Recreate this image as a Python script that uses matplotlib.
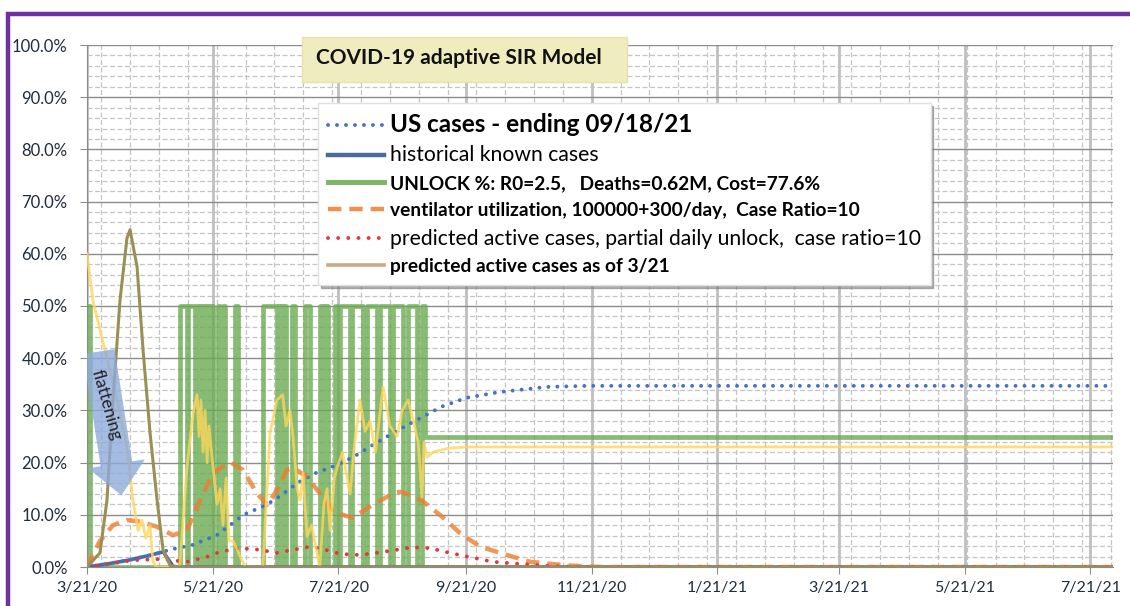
import datetime as dt
import numpy as np
import matplotlib.pyplot as plt
from matplotlib.lines import Line2D
from matplotlib.patches import FancyArrowPatch, Rectangle

START = dt.date(2020, 3, 21)

# x values are days since 3/21/20, y values are percent
us_days = [0, 10, 20, 30, 37, 40, 51, 63, 76, 87, 93, 103, 111, 119, 129, 140, 151,
           164, 172, 184, 200, 223, 243, 498]
us_vals = [0, 0.6, 1.3, 2.2, 2.9, 3.3, 4.2, 6.1, 10.0, 11.9, 13.4, 16.3, 18.0, 19.2, 21.0,
           23.7, 26.2, 29.0, 30.7, 32.4, 33.5, 34.5, 34.7, 34.7]

hist_days = [0, 10, 20, 30, 37, 42, 498]
hist_vals = [0, 0.6, 1.3, 2.2, 2.9, 0, 0]

unlock_days = [0, 1.5, 45, 48.5, 49, 52.4, 53.4, 54.4, 54.9, 55.8, 56.3, 57.3, 57.8, 58.7,
               59.2, 60.2, 60.7, 61.4, 63.6, 64.6, 66, 67, 71.8, 73.3, 85.4, 92.2, 92.7,
               93.7, 94.2, 95.1, 95.6, 96.4, 99.5, 101, 105.8, 108.3, 113, 114, 114.6, 115.5,
               116, 117, 120.4, 121.4, 122.8, 127.7, 128.6, 134, 135.9, 140.8, 142.2, 147,
               148.5, 153.4, 155.8, 160.2, 162.6, 164, 498]
unlock_vals = [50, 0, 50, 0, 50, 0, 50, 0, 50, 0, 50, 0, 50, 0,
               50, 0, 50, 0, 50, 0, 50, 0, 50, 0, 50, 0, 50,
               0, 50, 0, 50, 0, 50, 0, 50, 0, 50, 0, 50, 0,
               50, 0, 50, 0, 50, 0, 50, 0, 50, 0, 50, 0,
               50, 0, 50, 0, 50, 25, 25]

vent_days = [0, 1.5, 6.3, 12.6, 19.4, 25.7, 34, 41.7, 48.5, 54.9, 61.2, 69.4, 75.7, 82.5,
             87.4, 92.2, 97, 100, 106.8, 113, 119.4, 129, 137, 148.5, 152, 156.8, 163,
             172.8, 181, 190.8, 203.9, 215, 233, 249, 498]
vent_vals = [0, 1.3, 5.0, 8.0, 9.0, 8.7, 7.7, 6.1, 7.0, 12.8, 18.0, 20.1, 18.6, 14.1,
             11.9, 14.7, 18.6, 19.0, 17.3, 14.1, 10.6, 9.4, 11.5, 14.1, 14.4, 13.8, 12.6,
             9.5, 6.5, 3.9, 2.3, 1.0, 0.3, 0, 0]

active_days = [0, 6.3, 22, 35, 48.5, 58, 64.5, 74, 84, 92, 100, 107, 113, 123, 132.5, 142,
               152, 158, 166.5, 175, 184.5, 197, 210, 225, 239, 498]
active_vals = [0, 0.3, 1.3, 1.5, 1.0, 1.9, 2.9, 3.6, 3.3, 2.7, 3.3, 3.8, 3.6, 2.5, 2.3, 2.8,
               3.4, 3.8, 3.6, 2.8, 2.0, 1.0, 0.6, 0.2, 0, 0]

mar_days = [0, 6.3, 9.7, 12.6, 16, 19.4, 20.9, 24.3, 27.2, 30.6, 34, 36.9, 40.3, 45, 498]
mar_vals = [0, 2.7, 12.8, 32.0, 51.0, 63.0, 64.6, 57.5, 41.6, 25.7, 12.8, 3.3, 0.3, 0, 0]

daily_days = [0, 2.9, 7.8, 14.6, 19.4, 22.3, 24.8, 26.7, 28.6, 30.6, 32, 33.5, 45, 48.5,
              51.5, 53.4, 54.4, 55.3, 56.3, 57.3, 58.3, 59.2, 61.2, 63.1, 64.6, 66, 67.5,
              68.9, 70.9, 76.7, 85.4, 88.8, 92.2, 95, 96.6, 98.5, 100, 102, 103.4, 104.9,
              106.8, 109, 111.7, 113, 115, 116.5, 118, 120, 121.4, 124, 127.7, 130, 132.5,
              135, 137.4, 140, 143.7, 147, 150.5, 153, 155.8, 158, 160.7, 162.6, 163.6,
              165, 168, 174.8, 183.5, 498]
daily_vals = [60, 51, 43, 32, 23, 12.8, 7, 9, 5.5, 8, 1, 0, 0, 19,
              29.5, 33, 25, 32, 22, 30, 20, 27, 19, 12, 15, 8, 17,
              5, 5, 0, 0, 25.6, 32, 33, 27, 30, 25, 15, 12.8, 18,
              5.8, 8, 2.5, 0, 12, 15, 7, 17, 19, 22, 14, 24, 32,
              26, 28, 22, 34.5, 27, 25, 30, 32, 28.6, 24, 13.4, 24,
              21, 22, 22.7, 23, 23]

x_label_dates = [dt.date(2020, 3, 21), dt.date(2020, 5, 21), dt.date(2020, 7, 21),
                 dt.date(2020, 9, 21), dt.date(2020, 11, 21), dt.date(2021, 1, 21),
                 dt.date(2021, 3, 21), dt.date(2021, 5, 21), dt.date(2021, 7, 21)]
x_labels = ['3/21/20', '5/21/20', '7/21/20', '9/21/20', '11/21/20', '1/21/21',
            '3/21/21', '5/21/21', '7/21/21']

legend_labels = [
    'US cases - ending 09/18/21',
    'historical known cases',
    'UNLOCK %: R0=2.5,   Deaths=0.62M, Cost=77.6%',
    'ventilator utilization, 100000+300/day,  Case Ratio=10',
    'predicted active cases, partial daily unlock,  case ratio=10',
    'predicted active cases as of 3/21',
]

plt.rcParams['font.family'] = ['Lato', 'DejaVu Sans']

fig = plt.figure(figsize=(11.3, 6.06), dpi=100)
ax = fig.add_axes([87 / 1130, 39 / 606, 1026 / 1130, 522 / 606])

BLUE = '#4472c4'
HIST = '#4c6aa0'
GREEN = '#6aaa50'
ORANGE = '#ed7d31'
RED = '#e0383c'
TAN = '#c9a982'
OLIVE = '#9a9055'
YELLOW = '#ffd659'

DOT_BLUE = (0, (0.01, 2.3))
DOT_RED = (0, (0.01, 2.6))
DASH = (0, (3, 1.8))

ax.plot(unlock_days, unlock_vals, drawstyle='steps-post', color=GREEN, lw=3.4, alpha=0.8, zorder=3)
ax.plot(hist_days, hist_vals, color=HIST, lw=2.6, zorder=4)
ax.plot(us_days, us_vals, color=BLUE, lw=2.8, ls=DOT_BLUE, dash_capstyle='round', zorder=4)
ax.plot(vent_days, vent_vals, color=ORANGE, lw=3.2, ls=DASH, alpha=0.8, zorder=5)
ax.plot(active_days, active_vals, color=RED, lw=2.8, ls=DOT_RED, dash_capstyle='round', zorder=5)
ax.plot(daily_days, daily_vals, color=YELLOW, lw=2.0, alpha=0.8, zorder=6)
ax.plot(mar_days, mar_vals, color=OLIVE, lw=2.2, zorder=6)

# axes, ticks and grid
ax.set_xlim(0, 498)
ax.set_ylim(0, 100)
xt = [(d - START).days for d in x_label_dates]
ax.set_xticks(xt)
ax.set_xticklabels(x_labels)
ax.set_xticks(np.arange(7, 498, 14), minor=True)
ax.set_yticks(np.arange(0, 101, 10))
ax.set_yticklabels(['%.1f%%' % v for v in np.arange(0, 101, 10)])
ax.set_yticks(np.arange(0, 101, 2), minor=True)
ax.tick_params(which='major', length=5, color='#8c8c8c', labelsize=12, labelcolor='#1f2d3d')
ax.tick_params(which='minor', length=0)
ax.tick_params(axis='x', pad=5, labelsize=11.5)
ax.tick_params(axis='y', pad=9)
ax.xaxis.grid(True, which='major', color='#bfbfbf', lw=2)
ax.yaxis.grid(True, which='major', color='#8c8c8c', lw=1)
ax.grid(True, which='minor', color='#c4c4c4', lw=0.9, ls=(0, (4, 2)))
ax.set_axisbelow(True)
for s in ['top', 'right']:
    ax.spines[s].set_visible(False)
for s in ['left', 'bottom']:
    ax.spines[s].set_color('#8c8c8c')

# legend
handles = [
    Line2D([], [], color=BLUE, lw=2.8, ls=DOT_BLUE, dash_capstyle='round'),
    Line2D([], [], color=HIST, lw=3.2),
    Line2D([], [], color=GREEN, lw=3.6, alpha=0.85),
    Line2D([], [], color=ORANGE, lw=3.2, ls=DASH, alpha=0.85),
    Line2D([], [], color=RED, lw=2.8, ls=DOT_RED, dash_capstyle='round'),
    Line2D([], [], color=TAN, lw=2.6),
]
leg = ax.legend(handles, legend_labels, loc='upper left', bbox_to_anchor=(0.225, 0.889),
                fontsize=14, handlelength=2.9, handletextpad=0.3, labelspacing=0.5,
                borderpad=0.5, borderaxespad=0, fancybox=False, edgecolor='#e0e0e0',
                framealpha=1, shadow={'color': '#7f7f7f', 'alpha': 0.6})
leg.set_zorder(10)
texts = leg.get_texts()
texts[0].set_fontsize(17.5)
texts[0].set_fontweight('bold')
for i in (2, 3, 5):
    texts[i].set_fontweight('bold')
    texts[i].set_fontsize(13.8)
for i in (1, 4):
    texts[i].set_fontsize(15.2)

# title box
fig.patches.append(Rectangle((302 / 1130, 1 - 82 / 606), 325 / 1130, 45 / 606,
                             transform=fig.transFigure, fc='#efecbf', ec='#e6e2ad', lw=1,
                             zorder=11))
fig.text(316 / 1130, 1 - 58 / 606, 'COVID-19 adaptive SIR Model', fontsize=15, fontweight='bold',
         va='center', ha='left', color='#111111', zorder=12)

# flattening arrow
arrow = FancyArrowPatch((0.011, 0.418), (0.034, 0.132), transform=ax.transAxes,
                        arrowstyle='simple,head_length=0.5,head_width=0.9,tail_width=0.5',
                        mutation_scale=46, color='#8eaadb', alpha=0.8, lw=0, zorder=7)
ax.add_patch(arrow)
fig.text(106 / 1130, 1 - 405 / 606, 'flattening', rotation=-74, ha='center', va='center',
         fontsize=12.5, color='#222222', zorder=12)

# purple frame
fig.patches.append(Rectangle((8 / 1130, -0.1), 1.2, 1.1 - 14 / 606, transform=fig.transFigure,
                             fill=False, ec='#7030a0', lw=3.2))

fig.savefig('out.png', dpi=100)
